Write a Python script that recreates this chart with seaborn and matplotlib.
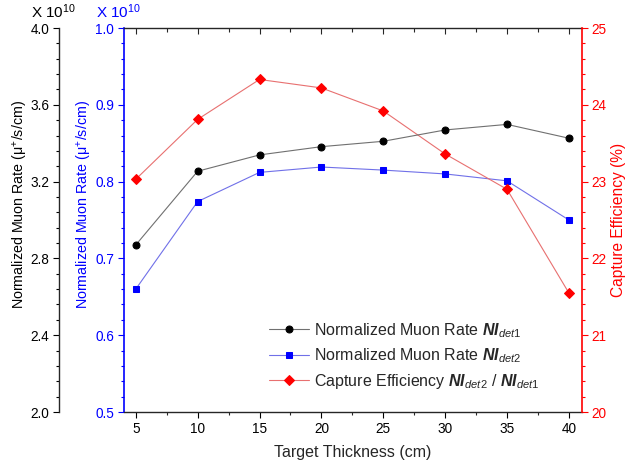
import matplotlib
matplotlib.use('Agg')
import matplotlib.pyplot as plt
import seaborn as sns
from matplotlib.ticker import MultipleLocator, AutoMinorLocator, FormatStrFormatter

sns.set_style('ticks')
plt.rcParams['font.family'] = ['Liberation Sans', 'DejaVu Sans']
plt.rcParams['mathtext.fontset'] = 'custom'
plt.rcParams['mathtext.rm'] = 'Liberation Sans'
plt.rcParams['mathtext.it'] = 'Liberation Sans:italic'
plt.rcParams['mathtext.bf'] = 'Liberation Sans:bold'
plt.rcParams['mathtext.bfit'] = 'Liberation Sans:bold:italic'

# Data
thickness = [5, 10, 15, 20, 25, 30, 35, 40]
rate_det1 = [2.870, 3.254, 3.339, 3.382, 3.410, 3.469, 3.498, 3.426]   # x 1e10
rate_det2 = [0.660, 0.774, 0.812, 0.819, 0.815, 0.810, 0.801, 0.750]   # x 1e10
capture_eff = [23.03, 23.81, 24.33, 24.22, 23.92, 23.36, 22.90, 21.55]  # %

blue = '#0000ff'
red = '#ff0000'
tick_fs = 9.8

fig = plt.figure(figsize=(6.25, 4.7), dpi=100)
ax = fig.add_axes([0.198, 0.1234, 0.733, 0.817])  # blue axis
ax_red = ax.twinx()
ax_blk = ax.twinx()

# curves
sns.lineplot(x=thickness, y=rate_det1, ax=ax_blk, color='#707070', lw=0.8,
             marker='o', markersize=5, markerfacecolor='black',
             markeredgecolor='black', label=r'Normalized Muon Rate $\mathbfit{NI}_{\mathit{det1}}$',
             legend=False)
sns.lineplot(x=thickness, y=rate_det2, ax=ax, color='#7070e8', lw=0.8,
             marker='s', markersize=4.5, markerfacecolor=blue,
             markeredgecolor=blue, label=r'Normalized Muon Rate $\mathbfit{NI}_{\mathit{det2}}$',
             legend=False)
sns.lineplot(x=thickness, y=capture_eff, ax=ax_red, color='#e87070', lw=0.8,
             marker='D', markersize=4.8, markerfacecolor=red,
             markeredgecolor=red,
             label=r'Capture Efficiency $\mathbfit{NI}_{\mathit{det2}}$ / $\mathbfit{NI}_{\mathit{det1}}$',
             legend=False)

# x axis
ax.set_xlim(4.03, 41.05)
ax.xaxis.set_major_locator(MultipleLocator(5))
ax.xaxis.set_minor_locator(AutoMinorLocator(2))
ax.tick_params(axis='x', which='major', direction='out', length=4.5, width=0.8,
               labelsize=tick_fs, colors='black', pad=3)
ax.tick_params(axis='x', which='minor', direction='out', length=2.2, width=0.8)
ax.set_xlabel('Target Thickness (cm)', fontsize=11.5, labelpad=6)
top = ax.secondary_xaxis('top')
top.xaxis.set_major_locator(MultipleLocator(5))
top.xaxis.set_minor_locator(AutoMinorLocator(2))
top.tick_params(which='major', direction='in', length=4.5, width=0.8, labeltop=False)
top.tick_params(which='minor', direction='in', length=3, width=0.8)
top.spines['top'].set_visible(False)

# blue axis (inner left)
ax.set_ylim(0.5, 1.0)
ax.yaxis.set_major_locator(MultipleLocator(0.1))
ax.yaxis.set_minor_locator(AutoMinorLocator(5))
ax.yaxis.set_major_formatter(FormatStrFormatter('%.1f'))
ax.tick_params(axis='y', which='major', length=4.5, width=0.8, colors=blue,
               labelsize=tick_fs, pad=2.5)
ax.tick_params(axis='y', which='minor', length=2.2, width=0.8, colors=blue)
ax.spines['left'].set_color(blue)
ax.spines['left'].set_linewidth(1.2)
ax.spines['right'].set_visible(False)
ax.set_ylabel(r'Normalized Muon Rate ($\mathregular{\mu^{+}}$/s/cm)', color=blue,
              fontsize=10.3)
ax.yaxis.set_label_coords(-0.064, 0.54)

# red axis (right)
ax_red.set_ylim(20, 25)
ax_red.yaxis.set_major_locator(MultipleLocator(1))
ax_red.yaxis.set_minor_locator(AutoMinorLocator(5))
ax_red.tick_params(axis='y', which='major', length=4.5, width=0.8, colors=red,
                   labelsize=tick_fs, pad=2.5)
ax_red.tick_params(axis='y', which='minor', length=2.2, width=0.8, colors=red)
for s in ['left', 'top', 'bottom']:
    ax_red.spines[s].set_visible(False)
ax_red.spines['right'].set_color(red)
ax_red.spines['right'].set_linewidth(1.2)
ax_red.set_ylabel('Capture Efficiency (%)', color=red, fontsize=11.2, labelpad=3)

# black axis (outer left)
ax_blk.set_ylim(2.0, 4.0)
ax_blk.yaxis.set_ticks_position('left')
ax_blk.yaxis.set_label_position('left')
ax_blk.spines['left'].set_position(('outward', 46.8))
ax_blk.spines['left'].set_visible(True)
ax_blk.spines['left'].set_linewidth(1.0)
for s in ['right', 'top', 'bottom']:
    ax_blk.spines[s].set_visible(False)
ax_blk.yaxis.set_major_locator(MultipleLocator(0.4))
ax_blk.yaxis.set_minor_locator(AutoMinorLocator(5))
ax_blk.yaxis.set_major_formatter(FormatStrFormatter('%.1f'))
ax_blk.tick_params(axis='y', which='major', length=4.5, width=0.8, colors='black',
                   labelsize=tick_fs, pad=2.5)
ax_blk.tick_params(axis='y', which='minor', length=2.2, width=0.8, colors='black')
ax_blk.set_ylabel(r'Normalized Muon Rate ($\mathregular{\mu^{+}}$/s/cm)', color='black',
                  fontsize=10.3)
ax_blk.yaxis.set_label_coords(-0.205, 0.54)

for a in (ax, ax_red, ax_blk):
    a.grid(False)
ax.spines['top'].set_linewidth(1.0)
ax.spines['bottom'].set_linewidth(1.0)

# multiplier labels
fig.text(0.085, 0.975, r'X 10$^{10}$', fontsize=11, color='black', ha='center', va='center')
fig.text(0.19, 0.975, r'X 10$^{10}$', fontsize=11, color=blue, ha='center', va='center')

# legend
handles = []
labels = []
for a in (ax_blk, ax, ax_red):
    h, l = a.get_legend_handles_labels()
    handles += h
    labels += l
ax_red.legend(handles, labels, loc='lower right', bbox_to_anchor=(0.938, 0.018),
              frameon=False, fontsize=11.5, handlelength=2.5, labelspacing=0.42,
              handletextpad=0.3)

fig.savefig('out.png', dpi=100)
